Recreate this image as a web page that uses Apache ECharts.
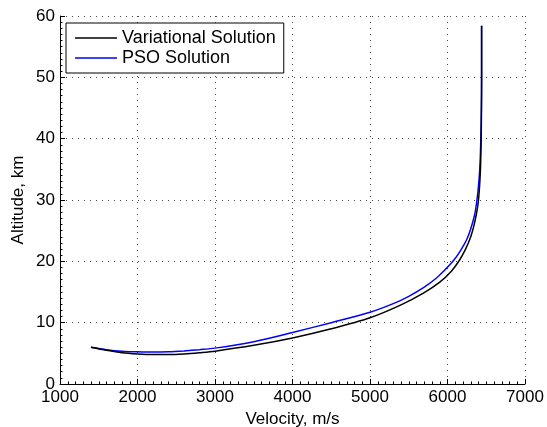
<!DOCTYPE html>
<html>
<head>
<meta charset="utf-8">
<script src="https://cdn.jsdelivr.net/npm/echarts@6/dist/echarts.min.js"></script>
<style>
html,body{margin:0;padding:0;background:#fff;}
#chart{width:547px;height:427px;}
</style>
</head>
<body>
<div id="chart"></div>
<script>
// Data
var variationalVelocity = [1400, 1600, 1800, 2000, 2200, 2400, 2600, 2800, 3000, 3500, 4000, 4500, 5000, 5400, 5700, 5900, 6050, 6150, 6230, 6300, 6350, 6390, 6410, 6425, 6433, 6438, 6440, 6440];
var variationalAltitude = [6.0, 5.5, 5.1, 4.9, 4.8, 4.8, 4.9, 5.1, 5.35, 6.3, 7.5, 9.0, 10.8, 12.9, 14.9, 16.6, 18.4, 20.1, 21.9, 24.0, 26.3, 29.0, 31.5, 35.0, 39.0, 44.0, 50.0, 58.4];
var psoVelocity = [1400, 1600, 1800, 2000, 2200, 2400, 2600, 2800, 3000, 3500, 4000, 4500, 5000, 5300, 5500, 5700, 5850, 5950, 6070, 6170, 6250, 6300, 6350, 6380, 6405, 6420, 6430, 6437, 6440, 6440];
var psoAltitude = [6.0, 5.6, 5.35, 5.25, 5.2, 5.25, 5.4, 5.6, 5.85, 6.9, 8.4, 10.0, 11.7, 13.1, 14.3, 15.8, 17.2, 18.4, 20.0, 21.8, 23.6, 25.3, 27.6, 30.0, 33.0, 36.0, 40.0, 45.0, 50.0, 58.4];
var seriesNames = ['Variational Solution', 'PSO Solution'];
var xTitle = 'Velocity, m/s';
var yTitle = 'Altitude, km';

function pairs(xs, ys) { return xs.map(function (v, i) { return [v, ys[i]]; }); }

var chart = echarts.init(document.getElementById('chart'), null, {renderer: 'canvas'});
var font = 'Liberation Sans, Arial, Helvetica, sans-serif';
var grid = {type: [1, 5], color: '#444', width: 1};
var plain = function (v) { return String(v); };

chart.setOption({
  animation: false,
  backgroundColor: '#fff',
  grid: {left: 60, right: 22, top: 16, bottom: 43, containLabel: false, outerBoundsMode: 'none'},
  legend: {
    data: seriesNames,
    orient: 'vertical',
    left: 66,
    top: 23,
    padding: [5, 8, 5, 9],
    itemGap: 0,
    itemWidth: 42,
    itemHeight: 1.5,
    icon: 'rect',
    backgroundColor: '#fff',
    borderColor: '#000',
    borderWidth: 1,
    textStyle: {fontFamily: font, fontSize: 18, color: '#000', lineHeight: 20}
  },
  xAxis: {
    type: 'value', min: 1000, max: 7000, interval: 1000,
    name: xTitle, nameLocation: 'middle', nameGap: 27, nameMoveOverlap: false,
    nameTextStyle: {fontFamily: font, fontSize: 17, color: '#000'},
    axisLine: {show: true, onZero: false, lineStyle: {color: '#000', width: 1}},
    axisTick: {show: true, inside: true, length: 5, lineStyle: {color: '#000'}},
    minorTick: {show: true, splitNumber: 10, length: 2.5, lineStyle: {color: '#000'}},
    axisLabel: {fontFamily: font, fontSize: 17, color: '#000', margin: 5, formatter: plain},
    splitLine: {show: true, lineStyle: grid}
  },
  yAxis: {
    type: 'value', min: 0, max: 60, interval: 10,
    name: yTitle, nameLocation: 'middle', nameGap: 33, nameMoveOverlap: false,
    nameTextStyle: {fontFamily: font, fontSize: 17, color: '#000'},
    axisLine: {show: true, onZero: false, lineStyle: {color: '#000', width: 1}},
    axisTick: {show: true, inside: true, length: 5, lineStyle: {color: '#000'}},
    minorTick: {show: true, splitNumber: 10, length: 2.5, lineStyle: {color: '#000'}},
    axisLabel: {fontFamily: font, fontSize: 17, color: '#000', margin: 5, formatter: plain},
    splitLine: {show: true, lineStyle: grid}
  },
  series: [
    {
      name: seriesNames[1], type: 'line', data: pairs(psoVelocity, psoAltitude),
      smooth: 0.3, symbol: 'none', color: '#0000ff',
      lineStyle: {color: '#0000ff', width: 1.5}, z: 2
    },
    {
      name: seriesNames[0], type: 'line', data: pairs(variationalVelocity, variationalAltitude),
      smooth: 0.3, symbol: 'none', color: '#000000',
      lineStyle: {color: '#000000', width: 1.5}, z: 3
    }
  ]
});
</script>
</body>
</html>
